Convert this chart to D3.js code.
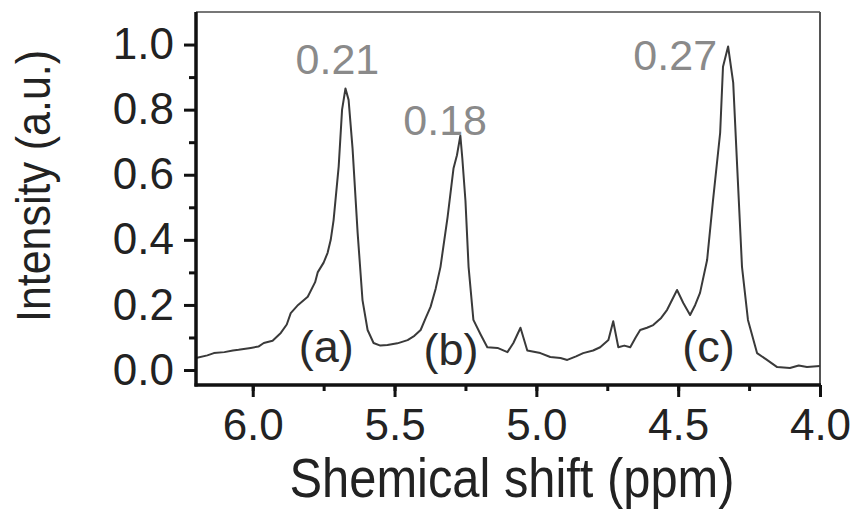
<!DOCTYPE html>
<html>
<head>
<meta charset="utf-8">
<script src="https://cdn.jsdelivr.net/npm/d3@7"></script>
<style>
  html, body { margin: 0; padding: 0; background: #fff; }
  svg { display: block; font-family: "Liberation Sans", Arial, sans-serif; }
</style>
</head>
<body>
<svg id="chart" width="856" height="514"></svg>
<script>
// ---- data ----
const shiftPpm = [
  6.20, 6.16, 6.137, 6.10, 6.07, 6.05, 6.007, 5.98, 5.961, 5.93, 5.901, 5.88, 5.866, 5.84,
  5.806, 5.78, 5.771, 5.75, 5.736, 5.725, 5.715, 5.697, 5.685, 5.673, 5.662, 5.648, 5.630,
  5.613, 5.595, 5.574, 5.55, 5.525, 5.49, 5.454, 5.43, 5.408, 5.39, 5.373, 5.355, 5.338,
  5.313, 5.292, 5.280, 5.268, 5.261, 5.250, 5.239, 5.222, 5.197, 5.173, 5.137, 5.102,
  5.081, 5.056, 5.032, 4.986, 4.951, 4.915, 4.891, 4.86, 4.835, 4.80, 4.775, 4.746, 4.729,
  4.711, 4.69, 4.669, 4.65, 4.634, 4.61, 4.588, 4.56, 4.539, 4.504, 4.482, 4.458, 4.44,
  4.423, 4.398, 4.377, 4.352, 4.342, 4.324, 4.306, 4.292, 4.275, 4.254, 4.222, 4.187,
  4.151, 4.106, 4.075, 4.046, 4.0
];
const intensity = [
  0.037, 0.045, 0.052, 0.055, 0.060, 0.062, 0.068, 0.072, 0.083, 0.090, 0.114, 0.140, 0.175, 0.200,
  0.225, 0.270, 0.300, 0.330, 0.360, 0.400, 0.460, 0.625, 0.800, 0.865, 0.830, 0.680, 0.420,
  0.215, 0.123, 0.083, 0.075, 0.077, 0.082, 0.092, 0.105, 0.123, 0.160, 0.194, 0.250, 0.317,
  0.470, 0.620, 0.660, 0.720, 0.650, 0.520, 0.317, 0.154, 0.110, 0.070, 0.068, 0.055,
  0.083, 0.130, 0.060, 0.052, 0.040, 0.037, 0.031, 0.042, 0.052, 0.060, 0.070, 0.092, 0.150,
  0.070, 0.075, 0.070, 0.100, 0.123, 0.130, 0.138, 0.160, 0.185, 0.246, 0.206, 0.169, 0.200,
  0.237, 0.338, 0.523, 0.729, 0.932, 0.994, 0.883, 0.625, 0.317, 0.154, 0.052, 0.031,
  0.009, 0.006, 0.014, 0.009, 0.012
];
const xTicks = [6.0, 5.5, 5.0, 4.5, 4.0];
const xMinorTicks = [6.0, 5.75, 5.5, 5.25, 5.0, 4.75, 4.5, 4.25, 4.0];
const yTicks = [0.0, 0.2, 0.4, 0.6, 0.8, 1.0];
const yMinorTicks = [0.1, 0.3, 0.5, 0.7, 0.9];
const peakLabels = ["0.21", "0.18", "0.27"];
const peakLabelPpm = [5.849, 5.469, 4.658];
const peakLabelY = [0.908, 0.723, 0.923];
const sampleLabels = ["(a)", "(b)", "(c)"];
const sampleLabelPpm = [5.838, 5.398, 4.486];
const sampleLabelY = [0.026, 0.014, 0.026];
const xTitle = "Shemical shift (ppm)";
const yTitle = "Intensity (a.u.)";

// ---- layout ----
const svg = d3.select("#chart");
const L = 196, R = 820, T = 12, B = 385;
const x = d3.scaleLinear().domain([6.2, 4.0]).range([L, R]);
const y = d3.scaleLinear().domain([-0.046, 1.10]).range([B, T]);

// frame (top / right thin)
svg.append("line").attr("x1", L).attr("x2", R).attr("y1", T).attr("y2", T)
  .attr("stroke", "#777").attr("stroke-width", 2);
svg.append("line").attr("x1", R).attr("x2", R).attr("y1", T).attr("y2", B)
  .attr("stroke", "#555").attr("stroke-width", 2);

// spectrum
const pts = shiftPpm.map((p, i) => [p, intensity[i]]);
svg.append("path").datum(pts)
  .attr("fill", "none").attr("stroke", "#3a3a3a").attr("stroke-width", 2)
  .attr("stroke-linejoin", "round")
  .attr("d", d3.line().x(d => x(d[0])).y(d => y(d[1])));

// axes
const xAxis = svg.append("g").attr("transform", `translate(0,${B})`)
  .call(d3.axisBottom(x).tickValues(xTicks).tickFormat(d3.format(".1f")).tickSize(12).tickPadding(12));
const xMinor = svg.append("g").attr("transform", `translate(0,${B})`)
  .call(d3.axisBottom(x).tickValues(xMinorTicks).tickFormat("").tickSize(6));
const yAxis = svg.append("g").attr("transform", `translate(${L},0)`)
  .call(d3.axisLeft(y).tickValues(yTicks).tickFormat(d3.format(".1f")).tickSize(12).tickPadding(10));
const yMinor = svg.append("g").attr("transform", `translate(${L},0)`)
  .call(d3.axisLeft(y).tickValues(yMinorTicks).tickFormat("").tickSize(7));

[xAxis, xMinor, yAxis, yMinor].forEach(g => {
  g.select(".domain").attr("stroke", "#111").attr("stroke-width", 3.5);
  g.selectAll(".tick line").attr("stroke", "#111").attr("stroke-width", 3);
  g.selectAll(".tick text").attr("fill", "#222").attr("font-size", 44)
    .attr("font-family", "'Liberation Sans', Arial, sans-serif");
});
xMinor.select(".domain").remove();
yMinor.select(".domain").remove();
// extend domain lines so corner is closed
xAxis.select(".domain").attr("d", `M${L - 1.5},0H${R + 1}`);
yAxis.select(".domain").attr("d", `M0,${T}V${B + 1.5}`);

// titles
svg.append("text").text(xTitle)
  .attr("x", 512).attr("y", 497).attr("text-anchor", "middle")
  .attr("font-size", 55).attr("fill", "#222")
  .attr("textLength", 445).attr("lengthAdjust", "spacingAndGlyphs");
svg.append("text").text(yTitle)
  .attr("transform", "translate(50,186) rotate(-90)").attr("text-anchor", "middle")
  .attr("font-size", 48).attr("fill", "#222")
  .attr("textLength", 272).attr("lengthAdjust", "spacingAndGlyphs");

// peak annotations
peakLabels.forEach((t, i) => {
  svg.append("text").text(t)
    .attr("x", x(peakLabelPpm[i])).attr("y", y(peakLabelY[i]))
    .attr("font-size", 43).attr("fill", "#8a8a8a");
});
sampleLabels.forEach((t, i) => {
  svg.append("text").text(t)
    .attr("x", x(sampleLabelPpm[i])).attr("y", y(sampleLabelY[i]))
    .attr("font-size", 45).attr("fill", "#2a2a2a");
});
</script>
</body>
</html>
